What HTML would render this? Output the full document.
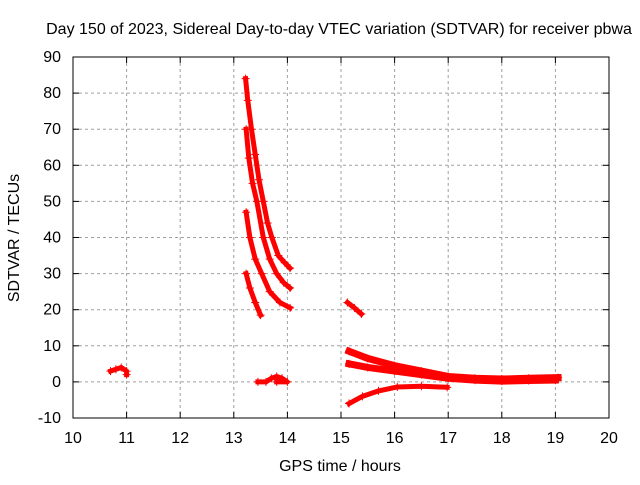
<!DOCTYPE html>
<html><head><meta charset="utf-8"><style>
body{margin:0;background:#fff}
svg{font-family:"Liberation Sans",sans-serif;font-size:16px}
</style></head><body>
<svg id="chart" width="640" height="480" xmlns="http://www.w3.org/2000/svg">
<rect width="640" height="480" fill="#fff"/>
<g id="grid"></g>
<g id="series"></g>
<rect x="73" y="57" width="536" height="361" fill="none" stroke="#000"/>
<g id="ticks"></g>
<text x="339" y="34" text-anchor="middle">Day 150 of 2023, Sidereal Day-to-day VTEC variation (SDTVAR) for receiver pbwa</text>
<text x="340" y="471" text-anchor="middle">GPS time / hours</text>
<text transform="translate(19,238) rotate(-90)" text-anchor="middle">SDTVAR / TECUs</text>
</svg>
<script>
const xTicks=[10,11,12,13,14,15,16,17,18,19,20];
const yTicks=[-10,0,10,20,30,40,50,60,70,80,90];
const seriesA=[[13.22,84],[13.26,78],[13.33,70],[13.4,63],[13.47,56],[13.55,50],[13.63,44],[13.71,40],[13.83,35],[13.95,33],[14.05,31.5]];
const seriesB=[[13.23,70],[13.28,62],[13.35,55],[13.43,50],[13.55,40],[13.67,34],[13.8,30],[13.93,27.5],[14.05,26]];
const seriesC=[[13.23,47],[13.3,40],[13.4,34],[13.52,30],[13.67,25],[13.86,22],[14.05,20.5]];
const seriesD=[[13.23,30],[13.3,26],[13.4,22],[13.5,18.5]];
const seriesE=[[10.7,3],[10.8,3.5],[10.9,4],[11.0,3],[11.0,2]];
const seriesF=[[13.45,0],[13.6,0],[13.7,1],[13.8,1.5],[13.9,1],[14.0,0],[13.8,0]];
const seriesG=[[15.12,22],[15.25,20.5],[15.38,18.8]];
const seriesH1=[[15.15,8.5],[15.5,6.5],[16,4.5],[16.5,3],[17,1.5],[17.5,1],[18,0.8],[18.5,1],[19.05,1.2]];
const seriesH2=[[15.15,5],[15.5,4],[16,3],[16.5,2],[17,1],[17.5,0.5],[18,0.2],[18.5,0.4],[19,0.5]];
const seriesI=[[15.15,-6],[15.4,-4],[15.7,-2.5],[16.05,-1.4],[16.5,-1.2],[16.98,-1.5]];
const allSeries=[seriesA,seriesB,seriesC,seriesD,seriesE,seriesF,seriesG,seriesH1,seriesH2,seriesI];
const NS="http://www.w3.org/2000/svg";
const X=h=>73+(h-10)*53.6;
const Y=v=>381.9-v*3.61;
function mk(tag,attrs,parent){const e=document.createElementNS(NS,tag);for(const k in attrs)e.setAttribute(k,attrs[k]);parent.appendChild(e);return e;}
const grid=document.getElementById('grid'),ticks=document.getElementById('ticks'),ser=document.getElementById('series');
xTicks.forEach(t=>{
  const x=X(t);
  if(t>10&&t<20){const g=mk('line',{x1:x,y1:57,x2:x,y2:418,stroke:'#a0a0a0','stroke-dasharray':'3,3'},grid);
  
  }
  mk('line',{x1:x,y1:418,x2:x,y2:412,stroke:'#000'},ticks);
  mk('line',{x1:x,y1:57,x2:x,y2:63,stroke:'#000'},ticks);
  const l=mk('text',{x:x,y:443,'text-anchor':'middle'},ticks);l.textContent=t;
  
  
});
yTicks.forEach(t=>{
  const y=Y(t);
  if(t>-10&&t<90){const g=mk('line',{x1:73,y1:y,x2:609,y2:y,stroke:'#a0a0a0','stroke-dasharray':'3,3'},grid);
  
  }
  mk('line',{x1:73,y1:y,x2:79,y2:y,stroke:'#000'},ticks);
  mk('line',{x1:609,y1:y,x2:603,y2:y,stroke:'#000'},ticks);
  const l=mk('text',{x:61,y:y+5,'text-anchor':'end'},ticks);l.textContent=t;
  
  
});
allSeries.forEach((s,i)=>{
  const pts=s.map(p=>X(p[0])+','+Y(p[1])).join(' ');
  const pl=mk('polyline',{points:pts,fill:'none',stroke:'#f00','stroke-width':(i===7||i===8)?7:5,'stroke-linejoin':'round','stroke-linecap':'square'},ser);
  
  
  s.forEach(p=>{
    const x=X(p[0]),y=Y(p[1]);
    const m=mk('path',{d:`M${x-4},${y}H${x+4}M${x},${y-4}V${y+4}`,stroke:'#f00','stroke-width':1},ser);
    
    
  });
});
</script>
</body></html>
